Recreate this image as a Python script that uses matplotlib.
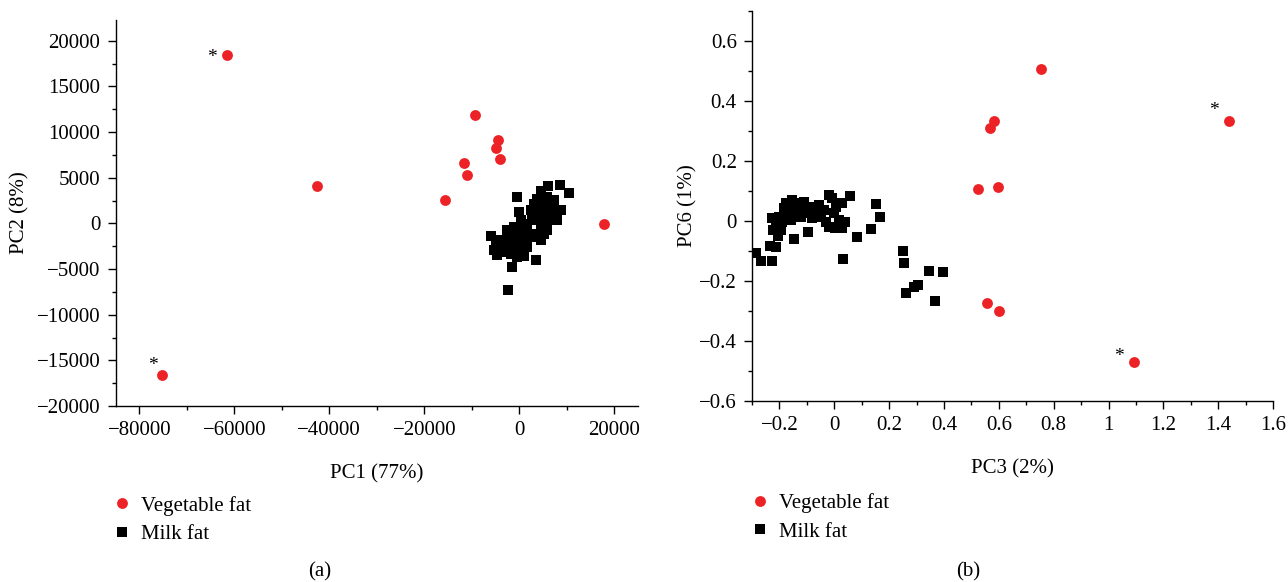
import numpy as np
import matplotlib
matplotlib.use("Agg")
import matplotlib.pyplot as plt
from matplotlib.ticker import MultipleLocator, FuncFormatter
from matplotlib.lines import Line2D

plt.rcParams['font.family'] = ['Liberation Serif', 'DejaVu Serif']
plt.rcParams['axes.unicode_minus'] = True

RED = '#ec2227'

# panel (a): PC1 vs PC2
veg_pc1 = [-61500, -42600, -75150, -9400, -4470, -4890, -3960, -11560, -10930, -15650, 17900]
veg_pc2 = [18440, 4050, -16600, 11900, 9120, 8290, 7080, 6600, 5290, 2510, -90]
star_a = {0: (-11, -2), 2: (-7, 7)}  # flagged samples -> asterisk offset (pt)

milk_pc1 = [6080, 8610, 10510, -530, 4530, 3830, 7350, 8750, 8050, -40,
            -6010, -4960, -4600, -2500, -1580, 3550, -2280, 1020, -390, -3200,
            1720, 4530, 5940, 6640, 3130, 4530, 2420, 1020, 3830, 5240,
            5940, 2420, 320, -1090, -2500, -3900, -1790, 670, 3130, 4530,
            5590, 6640, 7700, 3130, 1720, -390, -1790, -3200, -390, 1720,
            3830, 2770, 4920, 320, -1090, -3900, -5300, 5240]
milk_pc2 = [4080, 4190, 3310, 2870, 3530, 2690, 2510, 1490, 390, 1230,
            -1430, -2420, -3510, -780, -4790, -3990, -7350, -3620, -3700, -2970,
            -2600, -1870, -780, 320, 320, 1410, 1410, -50, 1780, 2140,
            2870, -1140, -1510, -2060, -2600, -1870, -3330, -2970, -1510, -410,
            1050, 1780, 1410, 2140, -410, -780, -1330, -2420, -2600, -1870,
            680, 870, 500, 320, -410, -3150, -2970, -1140]

# panel (b): PC3 vs PC6
veg_pc3 = [0.752, 0.583, 0.568, 1.440, 0.525, 0.596, 0.555, 0.602, 1.092]
veg_pc6 = [0.506, 0.333, 0.309, 0.332, 0.106, 0.114, -0.273, -0.300, -0.469]
star_b = {3: (-11, 8), 8: (-11, 4)}

milk_pc3 = [-0.287, -0.266, -0.227, -0.233, -0.212, -0.227, -0.224, -0.205, -0.178, -0.141,
            -0.146, -0.097, -0.020, -0.007, 0.056, 0.029, 0.039, 0.032, 0.081, 0.134,
            0.151, 0.167, 0.249, 0.255, 0.261, 0.292, 0.344, 0.395, 0.304, 0.366,
            -0.202, -0.190, -0.178, -0.165, -0.159, -0.146, -0.128, -0.122, -0.110, -0.097,
            -0.087, -0.080, -0.068, -0.056, -0.050, -0.038, -0.032, -0.020, -0.001, 0.005,
            0.017, 0.029, 0.003, -0.196, -0.214, -0.184, -0.153, -0.110]
milk_pc6 = [-0.108, -0.133, -0.133, -0.083, -0.086, 0.009, -0.030, -0.050, 0.059, 0.061,
            -0.061, -0.036, 0.087, 0.076, 0.083, 0.059, -0.002, -0.128, -0.054, -0.026,
            0.056, 0.014, -0.099, -0.141, -0.241, -0.219, -0.166, -0.171, -0.213, -0.267,
            0.014, -0.002, 0.026, 0.042, 0.003, 0.026, 0.053, 0.014, 0.042, 0.026,
            0.048, 0.009, 0.031, 0.053, 0.014, 0.037, -0.002, -0.019, 0.026, 0.048,
            0.003, -0.024, -0.024, -0.030, -0.008, 0.042, 0.070, 0.064]

FS = 15


def fmt(v, pos):
    s = '%g' % round(v, 6)
    return s.replace('-', '\u2212')


def style_axes(ax):
    for side in ['top', 'right']:
        ax.spines[side].set_visible(False)
    for side in ['left', 'bottom']:
        ax.spines[side].set_linewidth(1.0)
    ax.tick_params(which='major', direction='out', length=6, width=1.0, labelsize=FS, pad=5)
    ax.tick_params(which='minor', direction='out', length=3, width=1.0)
    ax.xaxis.set_major_formatter(FuncFormatter(fmt))
    ax.yaxis.set_major_formatter(FuncFormatter(fmt))


fig = plt.figure(figsize=(12.88, 5.82), dpi=100)

# ---- (a)
ax1 = fig.add_axes([0.0898, 0.3024, 0.4055, 0.6637])
ax1.plot(milk_pc1, milk_pc2, 's', color='black', ms=6.5, mew=0, zorder=2)
ax1.plot(veg_pc1, veg_pc2, 'o', color=RED, ms=7.8, mew=0, zorder=3)
for i, off in star_a.items():
    ax1.annotate('*', (veg_pc1[i], veg_pc2[i]), xytext=off,
                 textcoords='offset points', ha='center', va='center', fontsize=14)
ax1.set_xlim(-85000, 25000)
ax1.set_ylim(-20000, 22300)
ax1.xaxis.set_major_locator(MultipleLocator(20000))
ax1.xaxis.set_minor_locator(MultipleLocator(10000))
ax1.yaxis.set_major_locator(MultipleLocator(5000))
ax1.yaxis.set_minor_locator(MultipleLocator(2500))
style_axes(ax1)
ax1.set_xlabel('PC1 (77%)', fontsize=FS, labelpad=17)
ax1.set_ylabel('PC2 (8%)', fontsize=FS, labelpad=5)

# ---- (b)
ax2 = fig.add_axes([0.5839, 0.311, 0.4045, 0.670])
ax2.plot(milk_pc3, milk_pc6, 's', color='black', ms=6.5, mew=0, zorder=2)
ax2.plot(veg_pc3, veg_pc6, 'o', color=RED, ms=7.8, mew=0, zorder=3)
for i, off in star_b.items():
    ax2.annotate('*', (veg_pc3[i], veg_pc6[i]), xytext=off,
                 textcoords='offset points', ha='center', va='center', fontsize=14)
ax2.set_xlim(-0.3, 1.6)
ax2.set_ylim(-0.6, 0.7)
ax2.xaxis.set_major_locator(MultipleLocator(0.2))
ax2.xaxis.set_minor_locator(MultipleLocator(0.1))
ax2.yaxis.set_major_locator(MultipleLocator(0.2))
ax2.yaxis.set_minor_locator(MultipleLocator(0.1))
style_axes(ax2)
ax2.set_xlabel('PC3 (2%)', fontsize=FS, labelpad=17)
ax2.set_ylabel('PC6 (1%)', fontsize=FS, labelpad=1)

handles = [Line2D([], [], ls='none', marker='o', color=RED, ms=7.8, mew=0),
           Line2D([], [], ls='none', marker='s', color='black', ms=6.5, mew=0)]
labels = ['Vegetable fat', 'Milk fat']
for x0, y0 in [(0.087, 0.148), (0.582, 0.152)]:
    fig.legend(handles, labels, loc='upper left', bbox_to_anchor=(x0, y0),
               frameon=False, fontsize=FS, handlelength=1.0, handletextpad=0.4,
               labelspacing=0.42, borderpad=0, borderaxespad=0)

fig.text(0.2485, 0.018, '(a)', ha='center', va='center', fontsize=FS)
fig.text(0.7516, 0.018, '(b)', ha='center', va='center', fontsize=FS)

fig.savefig('out.png', dpi=100)
